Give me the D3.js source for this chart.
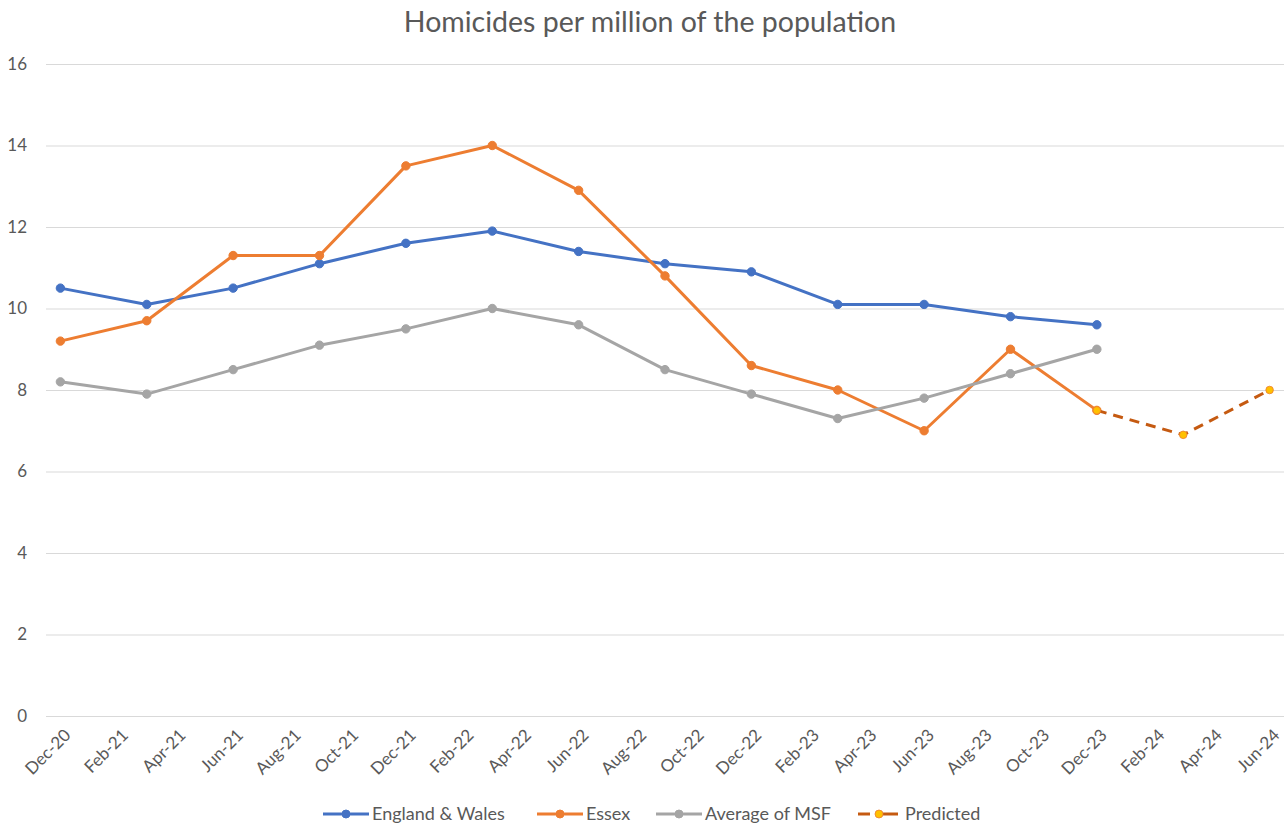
<!DOCTYPE html>
<html>
<head>
<meta charset="utf-8">
<script src="https://cdn.jsdelivr.net/npm/d3@7"></script>
<style>
  html, body { margin: 0; padding: 0; background: #fff; }
  svg { display: block; }
</style>
</head>
<body>
<svg id="chart" width="1287" height="825"></svg>
<script>
// ---- data ----
const title = "Homicides per million of the population";
const dates = ["2020-12","2021-03","2021-06","2021-09","2021-12","2022-03","2022-06","2022-09","2022-12","2023-03","2023-06","2023-09","2023-12"];
const englandWales = [10.5, 10.1, 10.5, 11.1, 11.6, 11.9, 11.4, 11.1, 10.9, 10.1, 10.1, 9.8, 9.6];
const essex        = [9.2, 9.7, 11.3, 11.3, 13.5, 14.0, 12.9, 10.8, 8.6, 8.0, 7.0, 9.0, 7.5];
const avgMSF       = [8.2, 7.9, 8.5, 9.1, 9.5, 10.0, 9.6, 8.5, 7.9, 7.3, 7.8, 8.4, 9.0];
const predictedDates = ["2023-12","2024-03","2024-06"];
const predicted      = [7.5, 6.9, 8.0];
const tickDates  = ["2020-12","2021-02","2021-04","2021-06","2021-08","2021-10","2021-12","2022-02","2022-04","2022-06","2022-08","2022-10","2022-12","2023-02","2023-04","2023-06","2023-08","2023-10","2023-12","2024-02","2024-04","2024-06"];
const tickLabels = ["Dec-20","Feb-21","Apr-21","Jun-21","Aug-21","Oct-21","Dec-21","Feb-22","Apr-22","Jun-22","Aug-22","Oct-22","Dec-22","Feb-23","Apr-23","Jun-23","Aug-23","Oct-23","Dec-23","Feb-24","Apr-24","Jun-24"];
const yTicks = [0, 2, 4, 6, 8, 10, 12, 14, 16];
const seriesNames = ["England & Wales", "Essex", "Average of MSF", "Predicted"];

// ---- helpers ----
const monthIndex = s => { const [y, m] = s.split("-").map(Number); return (y - 2020) * 12 + (m - 12); };
const FONT = "Lato, 'Open Sans', sans-serif";
const TEXT = "#595959";

const svg = d3.select("#chart");
const x = d3.scaleLinear().domain([-0.5, monthIndex("2024-06") + 0.5]).range([46, 1284]);
const y = d3.scaleLinear().domain([0, 16]).range([716, 64]);

// title
svg.append("text").attr("x", 650).attr("y", 32).attr("text-anchor", "middle")
  .attr("font-family", FONT).attr("font-size", 28.5).attr("fill", TEXT).text(title);

// gridlines + y labels
const yAxis = d3.axisLeft(y).tickValues(yTicks).tickSize(-(x.range()[1] - x.range()[0])).tickFormat(d3.format("d")).tickPadding(19);
const gy = svg.append("g").attr("transform", `translate(${x.range()[0]},0)`).call(yAxis);
gy.select(".domain").remove();
gy.selectAll(".tick line").attr("stroke", "#D9D9D9").attr("stroke-width", 1);
gy.selectAll(".tick text").attr("font-family", FONT).attr("font-size", 17).attr("fill", TEXT);

// x axis labels
const gx = svg.append("g");
gx.selectAll("text").data(tickDates).join("text")
  .attr("transform", d => `translate(${x(monthIndex(d)) + 7},${732}) rotate(-45)`)
  .attr("text-anchor", "end").attr("dy", "0.35em")
  .attr("font-family", FONT).attr("font-size", 17).attr("fill", TEXT)
  .text((d, i) => tickLabels[i]);

// series
const line = d3.line().x(d => x(monthIndex(d[0]))).y(d => y(d[1]));
const series = [
  { name: seriesNames[0], dates: dates, values: englandWales, color: "#4472C4", fill: "#4472C4", dash: null },
  { name: seriesNames[1], dates: dates, values: essex, color: "#ED7D31", fill: "#ED7D31", dash: null },
  { name: seriesNames[2], dates: dates, values: avgMSF, color: "#A5A5A5", fill: "#A5A5A5", dash: null },
  { name: seriesNames[3], dates: predictedDates, values: predicted, color: "#C55A11", fill: "#FFC000", dash: "10,7" }
];
series.forEach(s => {
  const pts = s.dates.map((d, i) => [d, s.values[i]]);
  svg.append("path").datum(pts).attr("d", line).attr("fill", "none")
    .attr("stroke", s.color).attr("stroke-width", 3).attr("stroke-linejoin", "round")
    .attr("stroke-dasharray", s.dash);
  svg.append("g").selectAll("circle").data(pts).join("circle")
    .attr("cx", d => x(monthIndex(d[0]))).attr("cy", d => y(d[1])).attr("r", s.dash ? 3.8 : 4.2)
    .attr("fill", s.fill).attr("stroke", s.dash ? "#ED7D31" : s.color).attr("stroke-width", s.dash ? 0.8 : 1);
});

// legend
const legendX = [323, 537, 656, 856];
const lg = svg.append("g");
series.forEach((s, i) => {
  const g = lg.append("g").attr("transform", `translate(${legendX[i]},814)`);
  if (s.dash) {
    g.append("line").attr("x1", 2).attr("x2", 14).attr("stroke", s.color).attr("stroke-width", 3);
    g.append("line").attr("x1", 27).attr("x2", 42).attr("stroke", s.color).attr("stroke-width", 3);
    g.append("circle").attr("cx", 23).attr("r", 4).attr("fill", s.fill)
      .attr("stroke", "#ED7D31").attr("stroke-width", 0.8);
    g.append("text").attr("x", 49).attr("dy", "0.35em")
      .attr("font-family", FONT).attr("font-size", 18).attr("fill", TEXT).text(s.name);
  } else {
    g.append("line").attr("x1", 0).attr("x2", 46).attr("stroke", s.color).attr("stroke-width", 3);
    g.append("circle").attr("cx", 23).attr("r", 4).attr("fill", s.fill)
      .attr("stroke", s.color).attr("stroke-width", 1);
    g.append("text").attr("x", 49).attr("dy", "0.35em")
      .attr("font-family", FONT).attr("font-size", 18).attr("fill", TEXT).text(s.name);
  }
});
</script>
</body>
</html>
